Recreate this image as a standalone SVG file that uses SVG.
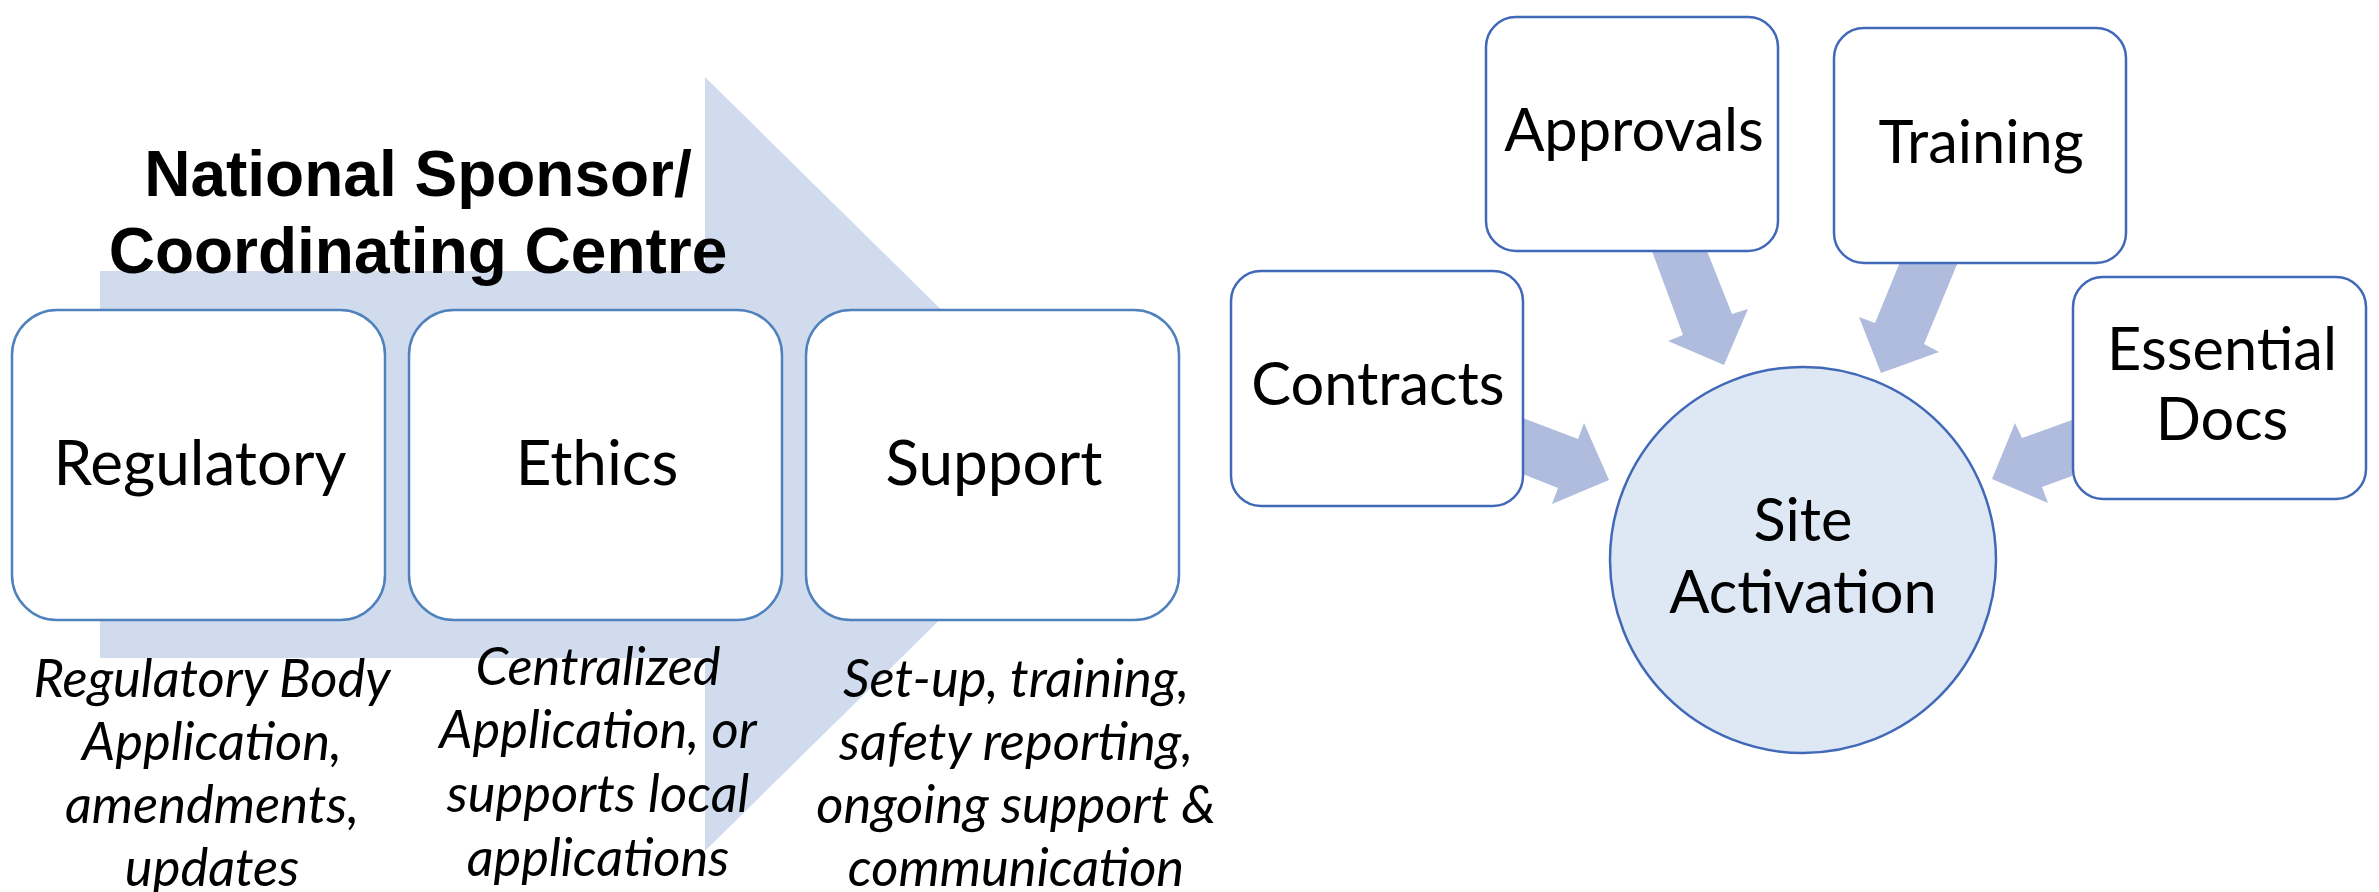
<svg xmlns="http://www.w3.org/2000/svg" width="2379" height="892" viewBox="0 0 2379 892">
<style>
.lbox{fill:#ffffff;stroke:#4F81BD;stroke-width:2.5}
.rbox{fill:#ffffff;stroke:#4169B8;stroke-width:2.5}
.lbl{font-family:Lato,"Liberation Sans",sans-serif;fill:#000;text-anchor:middle}
.big{font-size:62px}
.rl{font-size:59.5px}
.it{font-family:Lato,"Liberation Sans",sans-serif;font-style:italic;font-size:52.5px;fill:#000;text-anchor:middle}
.title{font-family:"Liberation Sans",Arial,sans-serif;font-weight:bold;font-size:64px;fill:#000;text-anchor:middle}
.barrow{fill:#AFBCDE}
</style>
<rect width="2379" height="892" fill="#ffffff"/>
<g id="big-arrow">
<polygon points="100,271 705,271 705,77 1098,464 705,851 705,658 100,658" fill="#D0DCEE"/>
</g>
<g id="title">
<text class="title" x="418" y="196">National Sponsor/</text>
<text class="title" x="418" y="273">Coordinating Centre</text>
</g>
<g id="regulatory">
<rect class="lbox" x="12" y="310" width="373" height="310" rx="45"/>
<text class="lbl big" x="200" y="485">Regulatory</text>
</g>
<g id="ethics">
<rect class="lbox" x="409" y="310" width="373" height="310" rx="45"/>
<text class="lbl big" x="597" y="485">Ethics</text>
</g>
<g id="support">
<rect class="lbox" x="806" y="310" width="373" height="310" rx="45"/>
<text class="lbl big" x="994" y="485">Support</text>
</g>
<g id="regulatory-desc">
<text class="it" x="212" y="697">Regulatory Body</text>
<text class="it" x="212" y="760">Application,</text>
<text class="it" x="212" y="823">amendments,</text>
<text class="it" x="212" y="886">updates</text>
</g>
<g id="ethics-desc">
<text class="it" x="598" y="685">Centralized</text>
<text class="it" x="598" y="748">Application, or</text>
<text class="it" x="598" y="812">supports local</text>
<text class="it" x="598" y="876">applications</text>
</g>
<g id="support-desc">
<text class="it" x="1016" y="697">Set-up, training,</text>
<text class="it" x="1016" y="760">safety reporting,</text>
<text class="it" x="1016" y="823">ongoing support &amp;</text>
<text class="it" x="1016" y="886">communication</text>
</g>
<g id="connectors">
<polygon class="barrow" points="1652,251 1707,251 1732,314 1748,309 1724,365 1668,341 1683,335"/>
<polygon class="barrow" points="1900,262 1958,262 1924,344 1939,352 1881,373 1859,317 1875,323"/>
<polygon class="barrow" points="1523,418 1578,439 1584,423 1609,480 1552,504 1558,488 1523,474"/>
<polygon class="barrow" points="2072,420 2022,438 2015,423 1992,479 2048,503 2042,487 2072,476"/>
</g>
<g id="site-activation">
<circle cx="1803" cy="560" r="193" fill="#DEE8F5" stroke="#4169B8" stroke-width="2.5"/>
<text class="lbl rl" x="1803" y="541">Site</text>
<text class="lbl rl" x="1803" y="613">Activation</text>
</g>
<g id="approvals">
<rect class="rbox" x="1486" y="17" width="292" height="234" rx="30"/>
<text class="lbl rl" x="1634" y="151">Approvals</text>
</g>
<g id="training">
<rect class="rbox" x="1834" y="28" width="292" height="235" rx="30"/>
<text class="lbl rl" x="1981" y="163">Training</text>
</g>
<g id="contracts">
<rect class="rbox" x="1231" y="271" width="292" height="235" rx="30"/>
<text class="lbl rl" x="1378" y="405">Contracts</text>
</g>
<g id="essential-docs">
<rect class="rbox" x="2073" y="277" width="293" height="222" rx="30"/>
<text class="lbl rl" x="2222" y="370">Essential</text>
<text class="lbl rl" x="2222" y="440">Docs</text>
</g>
</svg>
